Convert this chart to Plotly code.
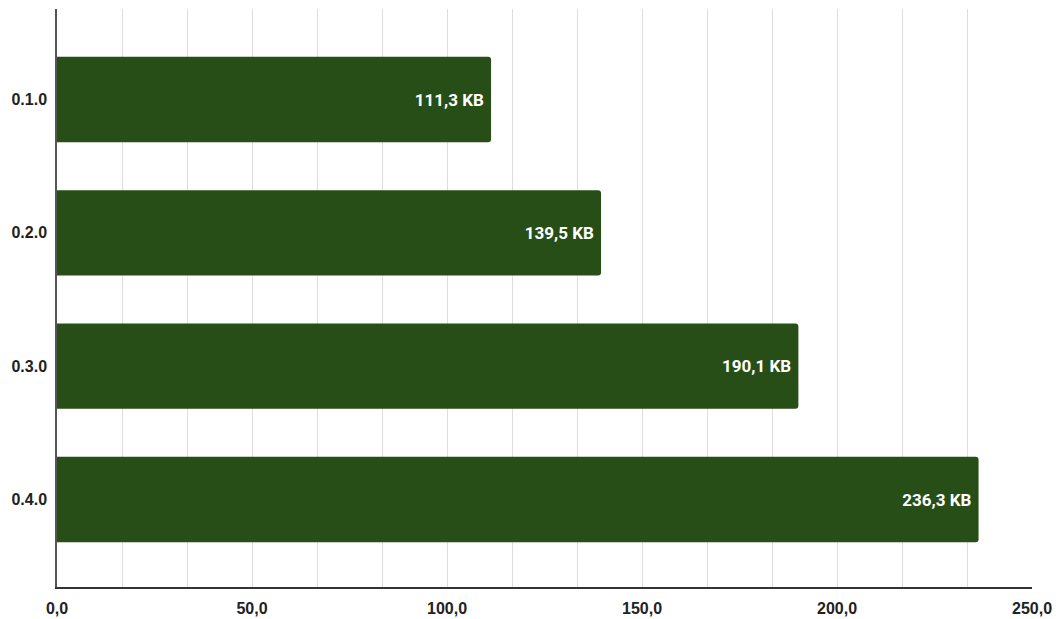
import plotly.graph_objects as go

versions = ["0.1.0", "0.2.0", "0.3.0", "0.4.0"]
sizes_kb = [111.3, 139.5, 190.1, 236.3]

grid_vals = [i * 50 / 3 for i in range(16)]
grid_text = [f"{v:.1f}".replace(".", ",") if i % 3 == 0 else "" for i, v in enumerate(grid_vals)]

# value labels, padded away from the bar end with a non-breaking space
labels = [f"{v:.1f}".replace(".", ",") + " KB\u00a0" for v in sizes_kb]

fig = go.Figure(
    go.Bar(
        x=sizes_kb,
        y=versions,
        orientation="h",
        marker=dict(color="#284e17", line=dict(width=0)),
        width=0.64,
        text=labels,
        textposition="inside",
        insidetextanchor="end",
        textfont=dict(family="Roboto", size=17, color="white", weight="bold"),
        cliponaxis=False,
    )
)

fig.update_layout(
    width=1059,
    height=619,
    margin=dict(l=57, r=27, t=9, b=32),
    paper_bgcolor="white",
    plot_bgcolor="white",
    showlegend=False,
    barcornerradius=3,
    font=dict(family="Liberation Sans, Arial", size=16, color="#222222"),
)

fig.update_xaxes(
    range=[0, 250],
    tickvals=grid_vals,
    ticktext=grid_text,
    tickfont=dict(family="Liberation Sans, Arial", size=16, color="#222222", weight="bold"),
    showgrid=True,
    gridcolor="#dddddd",
    gridwidth=1,
    showline=True,
    linecolor="#333333",
    linewidth=1.5,
    zeroline=False,
    ticks="",
    ticklen=0,
    ticklabelstandoff=6,
    automargin=False,
)

fig.update_yaxes(
    type="category",
    categoryorder="array",
    categoryarray=versions,
    range=[3.656, -0.679],
    tickfont=dict(family="Liberation Sans, Arial", size=16, color="#222222", weight="bold"),
    showgrid=False,
    showline=True,
    linecolor="#555555",
    linewidth=1.5,
    ticks="",
    ticklabelstandoff=5,
    automargin=False,
)

fig.write_html("out.html")
